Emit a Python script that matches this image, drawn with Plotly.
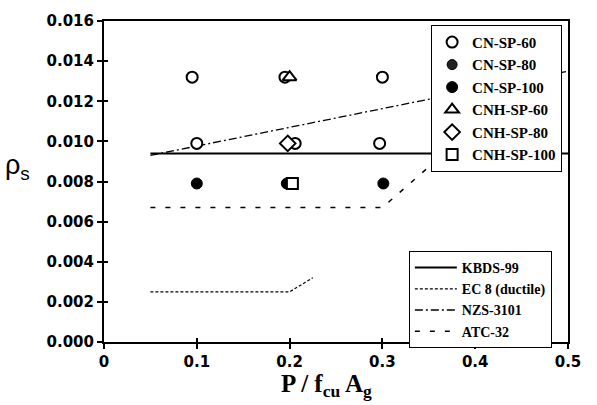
import plotly.graph_objects as go

# ---- data ----
cn60_x = [0.095, 0.195, 0.300]
cn60_y = [0.0132, 0.0132, 0.0132]
cn80_x = [0.100, 0.206, 0.297]
cn80_y = [0.0099, 0.0099, 0.0099]
cn100_x = [0.100, 0.197, 0.301]
cn100_y = [0.0079, 0.0079, 0.0079]
cnh60_x = [0.200]
cnh60_y = [0.0132]
cnh80_x = [0.198]
cnh80_y = [0.0099]
cnh100_x = [0.203]
cnh100_y = [0.0079]

kbds_x = [0.05, 0.50]
kbds_y = [0.0094, 0.0094]
ec8_x = [0.05, 0.20, 0.225]
ec8_y = [0.0025, 0.0025, 0.0032]
nzs_x = [0.05, 0.50]
nzs_y = [0.0093, 0.0135]
atc_x = [0.05, 0.30, 0.50]
atc_y = [0.0067, 0.0067, 0.0148]

x_ticks = [0, 0.1, 0.2, 0.3, 0.4, 0.5]
x_ticklabels = ["0", "0.1", "0.2", "0.3", "0.4", "0.5"]
y_ticks = [0, 0.002, 0.004, 0.006, 0.008, 0.010, 0.012, 0.014, 0.016]
y_ticklabels = ["0.000", "0.002", "0.004", "0.006", "0.008", "0.010", "0.012", "0.014", "0.016"]

fig = go.Figure()

# design-code lines (bottom legend)
fig.add_trace(go.Scatter(x=kbds_x, y=kbds_y, mode="lines", name="KBDS-99",
                         line=dict(color="black", width=2), legend="legend2"))
fig.add_trace(go.Scatter(x=ec8_x, y=ec8_y, mode="lines", name="EC 8 (ductile)",
                         line=dict(color="black", width=1.2, dash="3px,2px"), legend="legend2"))
fig.add_trace(go.Scatter(x=nzs_x, y=nzs_y, mode="lines", name="NZS-3101",
                         line=dict(color="black", width=1.3, dash="8px,3px,2px,3px"), legend="legend2"))
fig.add_trace(go.Scatter(x=atc_x, y=atc_y, mode="lines", name="ATC-32",
                         line=dict(color="black", width=1.5, dash="5px,10px"), legend="legend2"))

open_mk = dict(color="white", size=11, line=dict(color="black", width=2))
fill_mk = dict(color="black", size=11, line=dict(color="black", width=1))

fig.add_trace(go.Scatter(x=cn60_x, y=cn60_y, mode="markers", name="CN-SP-60",
                         marker=dict(symbol="circle", **open_mk)))
# CN-SP-80: plotted points look open in the figure; legend swatch filled
fig.add_trace(go.Scatter(x=cn80_x, y=cn80_y, mode="markers", name="CN-SP-80",
                         marker=dict(symbol="circle", **open_mk), showlegend=False))
fig.add_trace(go.Scatter(x=[None], y=[None], mode="markers", name="CN-SP-80",
                         marker=dict(symbol="circle", color="#222", size=10,
                                     line=dict(color="black", width=1))))
fig.add_trace(go.Scatter(x=cn100_x, y=cn100_y, mode="markers", name="CN-SP-100",
                         marker=dict(symbol="circle", **fill_mk)))
fig.add_trace(go.Scatter(x=cnh60_x, y=cnh60_y, mode="markers", name="CNH-SP-60",
                         marker=dict(symbol="triangle-up", color="white", size=12,
                                     line=dict(color="black", width=2))))
fig.add_trace(go.Scatter(x=cnh80_x, y=cnh80_y, mode="markers", name="CNH-SP-80",
                         marker=dict(symbol="diamond", color="white", size=12,
                                     line=dict(color="black", width=2))))
fig.add_trace(go.Scatter(x=cnh100_x, y=cnh100_y, mode="markers", name="CNH-SP-100",
                         marker=dict(symbol="square", color="white", size=11,
                                     line=dict(color="black", width=2))))

# invisible trace on overlay axes (gives the inner half of the crossing ticks)
fig.add_trace(go.Scatter(x=[None], y=[None], xaxis="x2", yaxis="y2",
                         mode="markers", showlegend=False, hoverinfo="skip"))

tickfont = dict(family="DejaVu Sans", size=15, color="black", weight="bold")

fig.update_layout(
    width=597, height=405,
    margin=dict(l=104, r=29, t=14, b=63),
    plot_bgcolor="white", paper_bgcolor="white",
    showlegend=True,
    xaxis=dict(range=[0, 0.5], tickvals=x_ticks, ticktext=x_ticklabels,
               showgrid=False, zeroline=False, showline=True, linecolor="black",
               linewidth=2, mirror=True, ticks="outside", ticklen=5, tickwidth=1.5,
               tickcolor="black", tickfont=tickfont),
    yaxis=dict(range=[0, 0.016], tickvals=y_ticks, ticktext=y_ticklabels,
               showgrid=False, zeroline=False, showline=True, linecolor="black",
               linewidth=2, mirror=True, ticks="outside", ticklen=5, tickwidth=1.5,
               tickcolor="black", tickfont=tickfont),
    xaxis2=dict(range=[0, 0.5], overlaying="x", anchor="y", side="bottom",
                tickvals=x_ticks, showticklabels=False, showgrid=False, zeroline=False,
                showline=False, ticks="inside", ticklen=4, tickwidth=1.5, tickcolor="black"),
    yaxis2=dict(range=[0, 0.016], overlaying="y", anchor="x", side="left",
                tickvals=y_ticks, showticklabels=False, showgrid=False, zeroline=False,
                showline=False, ticks="inside", ticklen=4, tickwidth=1.5, tickcolor="black"),
    legend=dict(x=0.705, y=0.988, xanchor="left", yanchor="top",
                bgcolor="white", bordercolor="black", borderwidth=1,
                font=dict(family="Liberation Serif", size=15, color="black", weight="bold"),
                tracegroupgap=0),
    legend2=dict(x=0.657, y=0.2835, xanchor="left", yanchor="top",
                 bgcolor="white", bordercolor="black", borderwidth=1, itemwidth=42,
                 font=dict(family="Liberation Serif", size=14, color="black", weight="bold"),
                 tracegroupgap=0),
    annotations=[
        dict(text="ρ<sub>s</sub>", xref="paper", yref="paper",
             x=-0.1875, y=0.546, xanchor="center", yanchor="middle", showarrow=False,
             font=dict(family="Liberation Sans", size=27, color="black")),
        dict(text="P / f<sub>cu</sub> A<sub>g</sub>", xref="paper", yref="paper",
             x=0.48, y=-0.135, xanchor="center", yanchor="middle", showarrow=False,
             font=dict(family="Liberation Serif", size=25, color="black", weight="bold")),
    ],
)

fig.write_html("out.html")
